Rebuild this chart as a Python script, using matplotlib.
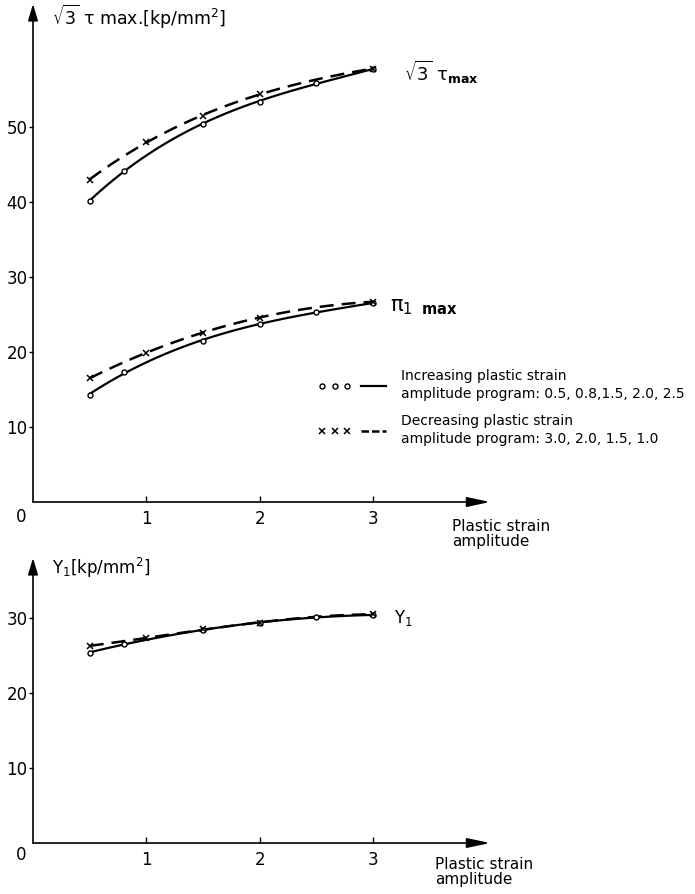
import numpy as np
import matplotlib
matplotlib.use("Agg")
import matplotlib.pyplot as plt
from matplotlib.lines import Line2D
from matplotlib.legend_handler import HandlerTuple

# ======= data =======
# increasing program (circles, solid)
x_inc = [0.5, 0.8, 1.5, 2.0, 2.5, 3.0]
tau_inc = [40.1, 44.2, 50.4, 53.4, 55.9, 57.7]
pi_inc = [14.3, 17.3, 21.5, 23.7, 25.4, 26.5]
y1_inc = [25.4, 26.5, 28.4, 29.4, 30.1, 30.4]

# decreasing program (crosses, dashed)
x_dec = [0.5, 1.0, 1.5, 2.0, 3.0]
tau_dec = [43.0, 48.0, 51.5, 54.4, 57.8]
pi_dec = [16.5, 19.9, 22.6, 24.6, 26.7]
y1_dec = [26.3, 27.3, 28.5, 29.4, 30.5]

TOP_YTICKS = [10, 20, 30, 40, 50]
BOT_YTICKS = [10, 20, 30]
XTICKS = [1, 2, 3]

# ======= style =======
W, H = 695, 894
FS = 12
LW_SOLID = 1.6
LW_DASH = 1.8
DASHES = (5.6, 3.2)

plt.rcParams["font.family"] = ["DejaVu Sans"]
plt.rcParams["mathtext.default"] = "regular"

fig = plt.figure(figsize=(W / 100, H / 100), dpi=100)


def px(x, y):
    return x / W, 1 - y / H


def smooth(x, y, deg=3):
    # smooth curve through the measured points
    c = np.polyfit(x, y, deg)
    xs = np.linspace(min(x), max(x), 120)
    return xs, np.polyval(c, xs)


def setup(ax, ymax, yticks):
    ax.set_xlim(0, 4.03)
    ax.set_ylim(0, ymax)
    for s in ax.spines.values():
        s.set_visible(False)
    ax.set_xticks(XTICKS)
    ax.set_yticks(yticks)
    ax.tick_params(axis="x", direction="in", length=4, width=1, pad=6, labelsize=FS)
    ax.tick_params(axis="y", direction="out", length=3, width=1, pad=1, labelsize=FS)
    kw = dict(arrowstyle="-|>,head_length=1.4,head_width=0.3", color="black",
              lw=1.2, shrinkA=0, shrinkB=0, mutation_scale=10)
    ax.annotate("", xy=(1, 0), xytext=(0, 0), xycoords="axes fraction",
                arrowprops=kw, annotation_clip=False)
    kw["arrowstyle"] = "-|>,head_length=1.0,head_width=0.3"
    ax.annotate("", xy=(0, 1), xytext=(0, 0), xycoords="axes fraction",
                arrowprops=kw, annotation_clip=False)
    ax.text(-0.015, -0.012, "0", transform=ax.transAxes, ha="right", va="top",
            fontsize=FS)


def draw(ax, xi, yi, xd, yd):
    xs, ys = smooth(xd, yd)
    ax.plot(xs, ys, color="black", lw=LW_DASH, dashes=DASHES, clip_on=False)
    xs, ys = smooth(xi, yi)
    ax.plot(xs, ys, color="black", lw=LW_SOLID, clip_on=False)
    ax.plot(xi, yi, "o", ms=3.6, mfc="white", mec="black", mew=1, clip_on=False)
    ax.plot(xd, yd, "x", ms=4.5, color="black", mew=1.1, clip_on=False)


# ===== top chart =====
ax1 = fig.add_axes([33 / W, (H - 502) / H, 457 / W, 498 / H])
setup(ax1, 66.4, TOP_YTICKS)
draw(ax1, x_inc, tau_inc, x_dec, tau_dec)
draw(ax1, x_inc, pi_inc, x_dec, pi_dec)

# ===== bottom chart =====
ax2 = fig.add_axes([33 / W, (H - 843) / H, 457 / W, 285 / H])
setup(ax2, 38, BOT_YTICKS)
draw(ax2, x_inc, y1_inc, x_dec, y1_dec)

# ===== labels =====
fig.text(*px(52, 17), r"$\sqrt{3}\ \tau$ max.[kp/mm$^2$]", fontsize=FS + 0.5, va="center")
fig.text(*px(404, 72), r"$\sqrt{3}\ \tau_{\mathbf{max}}$", fontsize=FS + 1, va="center")
fig.text(*px(390, 307), r"$\pi_{1\ \ \mathbf{max}}$", fontsize=FS + 3, va="center")
fig.text(*px(52, 568), r"$Y_1$[kp/mm$^2$]", fontsize=FS, va="center")
fig.text(*px(394, 618), r"$Y_1$", fontsize=FS, va="center")
fig.text(*px(452, 534), "Plastic strain\namplitude", fontsize=FS - 1,
         va="center", linespacing=1.0)
fig.text(*px(435, 872), "Plastic strain\namplitude", fontsize=FS - 1,
         va="center", linespacing=1.0)

# ===== legend =====
h_inc = (Line2D([], [], ls="none", marker="o", ms=3.6, mfc="white", mec="black", mew=1),
         Line2D([], [], color="black", lw=LW_SOLID))
h_dec = (Line2D([], [], ls="none", marker="x", ms=4.5, color="black", mew=1.1),
         Line2D([], [], color="black", lw=LW_DASH, dashes=(3, 1.2)))
leg = ax1.legend([h_inc, h_dec],
                 ["Increasing plastic strain\namplitude program: 0.5, 0.8,1.5, 2.0, 2.5",
                  "Decreasing plastic strain\namplitude program: 3.0, 2.0, 1.5, 1.0"],
                 handler_map={tuple: HandlerTuple(ndivide=None, pad=0.4)},
                 numpoints=3, handlelength=5.2, handletextpad=0.75, labelspacing=0.9,
                 fontsize=10, frameon=False, loc="upper left",
                 bbox_to_anchor=px(318, 369), bbox_transform=fig.transFigure,
                 borderpad=0, borderaxespad=0)
for t in leg.get_texts():
    t.set_linespacing(1.4)

fig.savefig("out.png", dpi=100)
